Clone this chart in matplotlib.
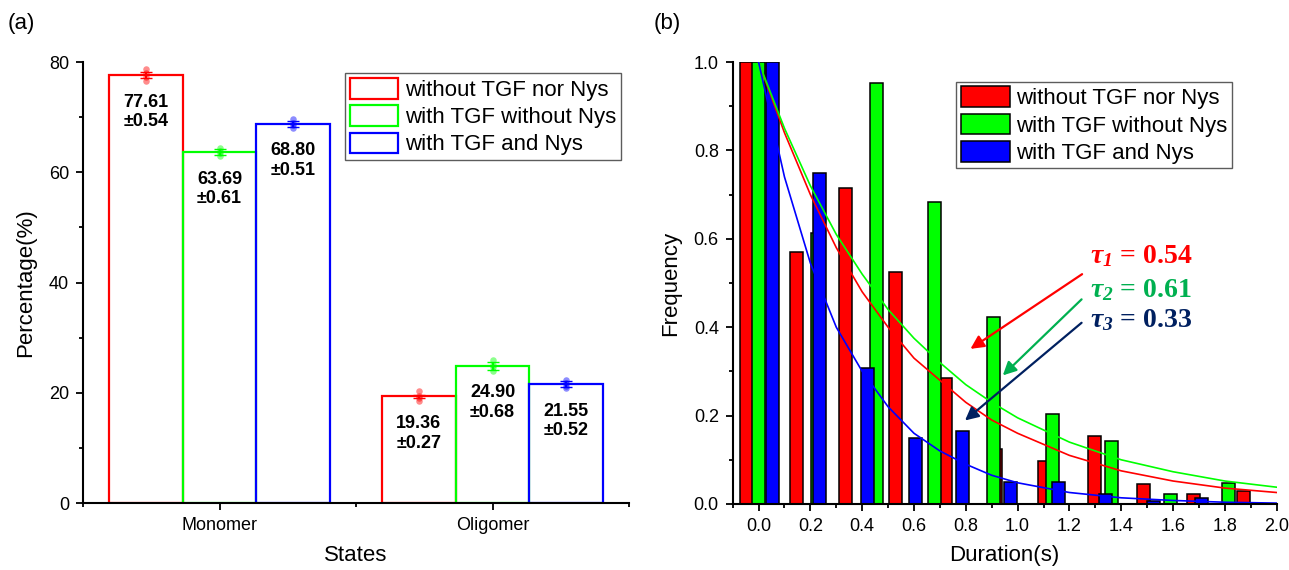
import numpy as np
import matplotlib
matplotlib.use("Agg")
import matplotlib.pyplot as plt
from matplotlib.patches import Patch
from matplotlib.ticker import MultipleLocator

plt.rcParams['font.family'] = ['Liberation Sans', 'DejaVu Sans']
plt.rcParams['mathtext.fontset'] = 'custom'
plt.rcParams['mathtext.it'] = 'Liberation Serif:italic:bold'
plt.rcParams['mathtext.rm'] = 'Liberation Serif:italic:bold'

# ---- panel (a) data ----
states = ['Monomer', 'Oligomer']
groups = ['without TGF nor Nys', 'with TGF without Nys', 'with TGF and Nys']
mean_no = [77.61, 19.36]
err_no = [0.54, 0.27]
mean_tgf = [63.69, 24.90]
err_tgf = [0.61, 0.68]
mean_nys = [68.80, 21.55]
err_nys = [0.51, 0.52]
pts_no = [[78.8, 78.0, 77.2, 76.5], [20.4, 19.5, 19.0, 18.5]]
pts_tgf = [[64.4, 63.9, 63.5, 63.0], [26.0, 25.1, 24.6, 23.9]]
pts_nys = [[69.6, 69.0, 68.6, 68.0], [22.3, 21.8, 21.3, 20.8]]

# ---- panel (b) data ----
red_x = [-0.047, 0.145, 0.337, 0.529, 0.721, 0.913, 1.104, 1.296, 1.487, 1.679, 1.871]
red_y = [1.0, 0.571, 0.716, 0.526, 0.286, 0.125, 0.097, 0.154, 0.045, 0.023, 0.029]
green_x = [0.0, 0.227, 0.454, 0.681, 0.908, 1.135, 1.362, 1.589, 1.816]
green_y = [1.0, 0.614, 0.952, 0.684, 0.424, 0.203, 0.142, 0.023, 0.048]
blue_x = [0.053, 0.237, 0.421, 0.605, 0.789, 0.973, 1.157, 1.341, 1.525, 1.709]
blue_y = [1.0, 0.750, 0.307, 0.150, 0.165, 0.049, 0.049, 0.023, 0.007, 0.013]

# fitted decay curves
fit_x = [0.0, 0.1, 0.2, 0.3, 0.4, 0.5, 0.6, 0.7, 0.8, 0.9, 1.0, 1.2, 1.4, 1.6, 1.8, 2.0]
fit_red = [1.0, 0.84, 0.70, 0.58, 0.48, 0.40, 0.33, 0.28, 0.23, 0.19, 0.16, 0.11, 0.075, 0.052, 0.036, 0.026]
fit_green = [1.0, 0.85, 0.72, 0.61, 0.52, 0.44, 0.375, 0.32, 0.27, 0.23, 0.195, 0.14, 0.10, 0.073, 0.052, 0.038]
fit_blue = [1.0, 0.74, 0.545, 0.40, 0.30, 0.22, 0.16, 0.12, 0.09, 0.065, 0.048, 0.026, 0.014, 0.008, 0.004, 0.002]
taus = ['0.54', '0.61', '0.33']

cols = ['#FF0000', '#00FF00', '#0000FF']
tau_cols = ['#FF0000', '#00B050', '#002060']

fig = plt.figure(figsize=(12.89, 5.70), dpi=100)
ax1 = fig.add_axes([0.0644, 0.1175, 0.4236, 0.7737])
ax2 = fig.add_axes([0.5684, 0.1158, 0.4220, 0.7754])

# ================= (a) =================
xpos = np.array([1, 2])
bw = 0.27
all_means = [mean_no, mean_tgf, mean_nys]
all_errs = [err_no, err_tgf, err_nys]
all_pts = [pts_no, pts_tgf, pts_nys]
for i in range(3):
    xs = xpos + (i - 1) * bw
    ax1.bar(xs, all_means[i], width=bw, facecolor='none', edgecolor=cols[i], lw=1.6)
    for j in range(2):
        ax1.scatter([xs[j]] * len(all_pts[i][j]), all_pts[i][j], s=22, color=cols[i],
                    alpha=0.45, lw=0, zorder=3)
        ax1.errorbar(xs[j], all_means[i][j], yerr=all_errs[i][j], color=cols[i],
                     capsize=4, lw=1.5, zorder=4)
        ax1.text(xs[j], all_means[i][j] - 6.7, f"{all_means[i][j]:.2f}\n\u00b1{all_errs[i][j]:.2f}",
                 ha='center', va='center', fontsize=13, fontweight='bold')

ax1.set_xlim(0.5, 2.5)
ax1.set_ylim(0, 80)
ax1.set_xticks(xpos)
ax1.set_xticklabels(states)
ax1.xaxis.set_minor_locator(MultipleLocator(0.5))
ax1.yaxis.set_major_locator(MultipleLocator(20))
ax1.yaxis.set_minor_locator(MultipleLocator(10))
ax1.set_ylabel('Percentage(%)', fontsize=16)
ax1.set_xlabel('States', fontsize=16)
ax1.yaxis.set_label_coords(-0.085, 0.5)
ax1.xaxis.set_label_coords(0.5, -0.095)

h1 = [Patch(facecolor='white', edgecolor=c, lw=1.6) for c in cols]
leg1 = ax1.legend(h1, groups, loc='upper left', bbox_to_anchor=(0.48, 0.974), fontsize=16,
                  frameon=True, fancybox=False, edgecolor='#333333', handlelength=2.2,
                  handleheight=1.05, handletextpad=0.3, labelspacing=0.2, borderpad=0.2,
                  borderaxespad=0)
leg1.get_frame().set_linewidth(1.0)

# ================= (b) =================
bwb = 0.05
ax2.bar(red_x, red_y, width=bwb, color=cols[0], edgecolor='black', lw=1.1, label=groups[0])
ax2.bar(green_x, green_y, width=bwb, color=cols[1], edgecolor='black', lw=1.1, label=groups[1])
ax2.bar(blue_x, blue_y, width=bwb, color=cols[2], edgecolor='black', lw=1.1, label=groups[2])
ax2.plot(fit_x, fit_red, color=cols[0], lw=1.2)
ax2.plot(fit_x, fit_green, color=cols[1], lw=1.2)
ax2.plot(fit_x, fit_blue, color=cols[2], lw=1.2)

ax2.set_xlim(-0.1, 2.0)
ax2.set_ylim(0, 1.0)
ax2.xaxis.set_major_locator(MultipleLocator(0.2))
ax2.xaxis.set_minor_locator(MultipleLocator(0.1))
ax2.yaxis.set_major_locator(MultipleLocator(0.2))
ax2.yaxis.set_minor_locator(MultipleLocator(0.1))
ax2.set_ylabel('Frequency', fontsize=16)
ax2.set_xlabel('Duration(s)', fontsize=16)
ax2.yaxis.set_label_coords(-0.095, 0.5)
ax2.xaxis.set_label_coords(0.5, -0.093)

leg2 = ax2.legend(loc='upper left', bbox_to_anchor=(0.411, 0.955), fontsize=16,
                  frameon=True, fancybox=False, edgecolor='#333333', handlelength=2.2,
                  handleheight=1.05, handletextpad=0.3, labelspacing=0.2, borderpad=0.2,
                  borderaxespad=0)
leg2.get_frame().set_linewidth(1.0)

# tau annotations
arrow_start = [(1.249, 0.520), (1.247, 0.463), (1.247, 0.410)]
arrow_end = [(0.818, 0.351), (0.943, 0.291), (0.797, 0.189)]
text_y = [0.56, 0.484, 0.415]
for k in range(3):
    ax2.annotate('', xy=arrow_end[k], xytext=arrow_start[k],
                 arrowprops=dict(arrowstyle='-|>', color=tau_cols[k], lw=1.6, mutation_scale=20,
                                 shrinkA=0, shrinkB=0))
    ax2.text(1.28, text_y[k], r'$\tau_%d$ = %s' % (k + 1, taus[k]), color=tau_cols[k],
             fontsize=20, fontweight='bold', family='Liberation Serif', va='center', ha='left')

for ax in (ax1, ax2):
    ax.spines['top'].set_visible(False)
    ax.spines['right'].set_visible(False)
    ax.spines['left'].set_linewidth(1.5)
    ax.spines['bottom'].set_linewidth(1.5)
    ax.tick_params(which='major', direction='out', length=5, width=1.3, labelsize=13, pad=5)
    ax.tick_params(which='minor', direction='out', length=3, width=1.3)

fig.text(0.006, 0.958, '(a)', fontsize=16, va='center', ha='left')
fig.text(0.507, 0.958, '(b)', fontsize=16, va='center', ha='left')

fig.savefig('out.png', dpi=100)
